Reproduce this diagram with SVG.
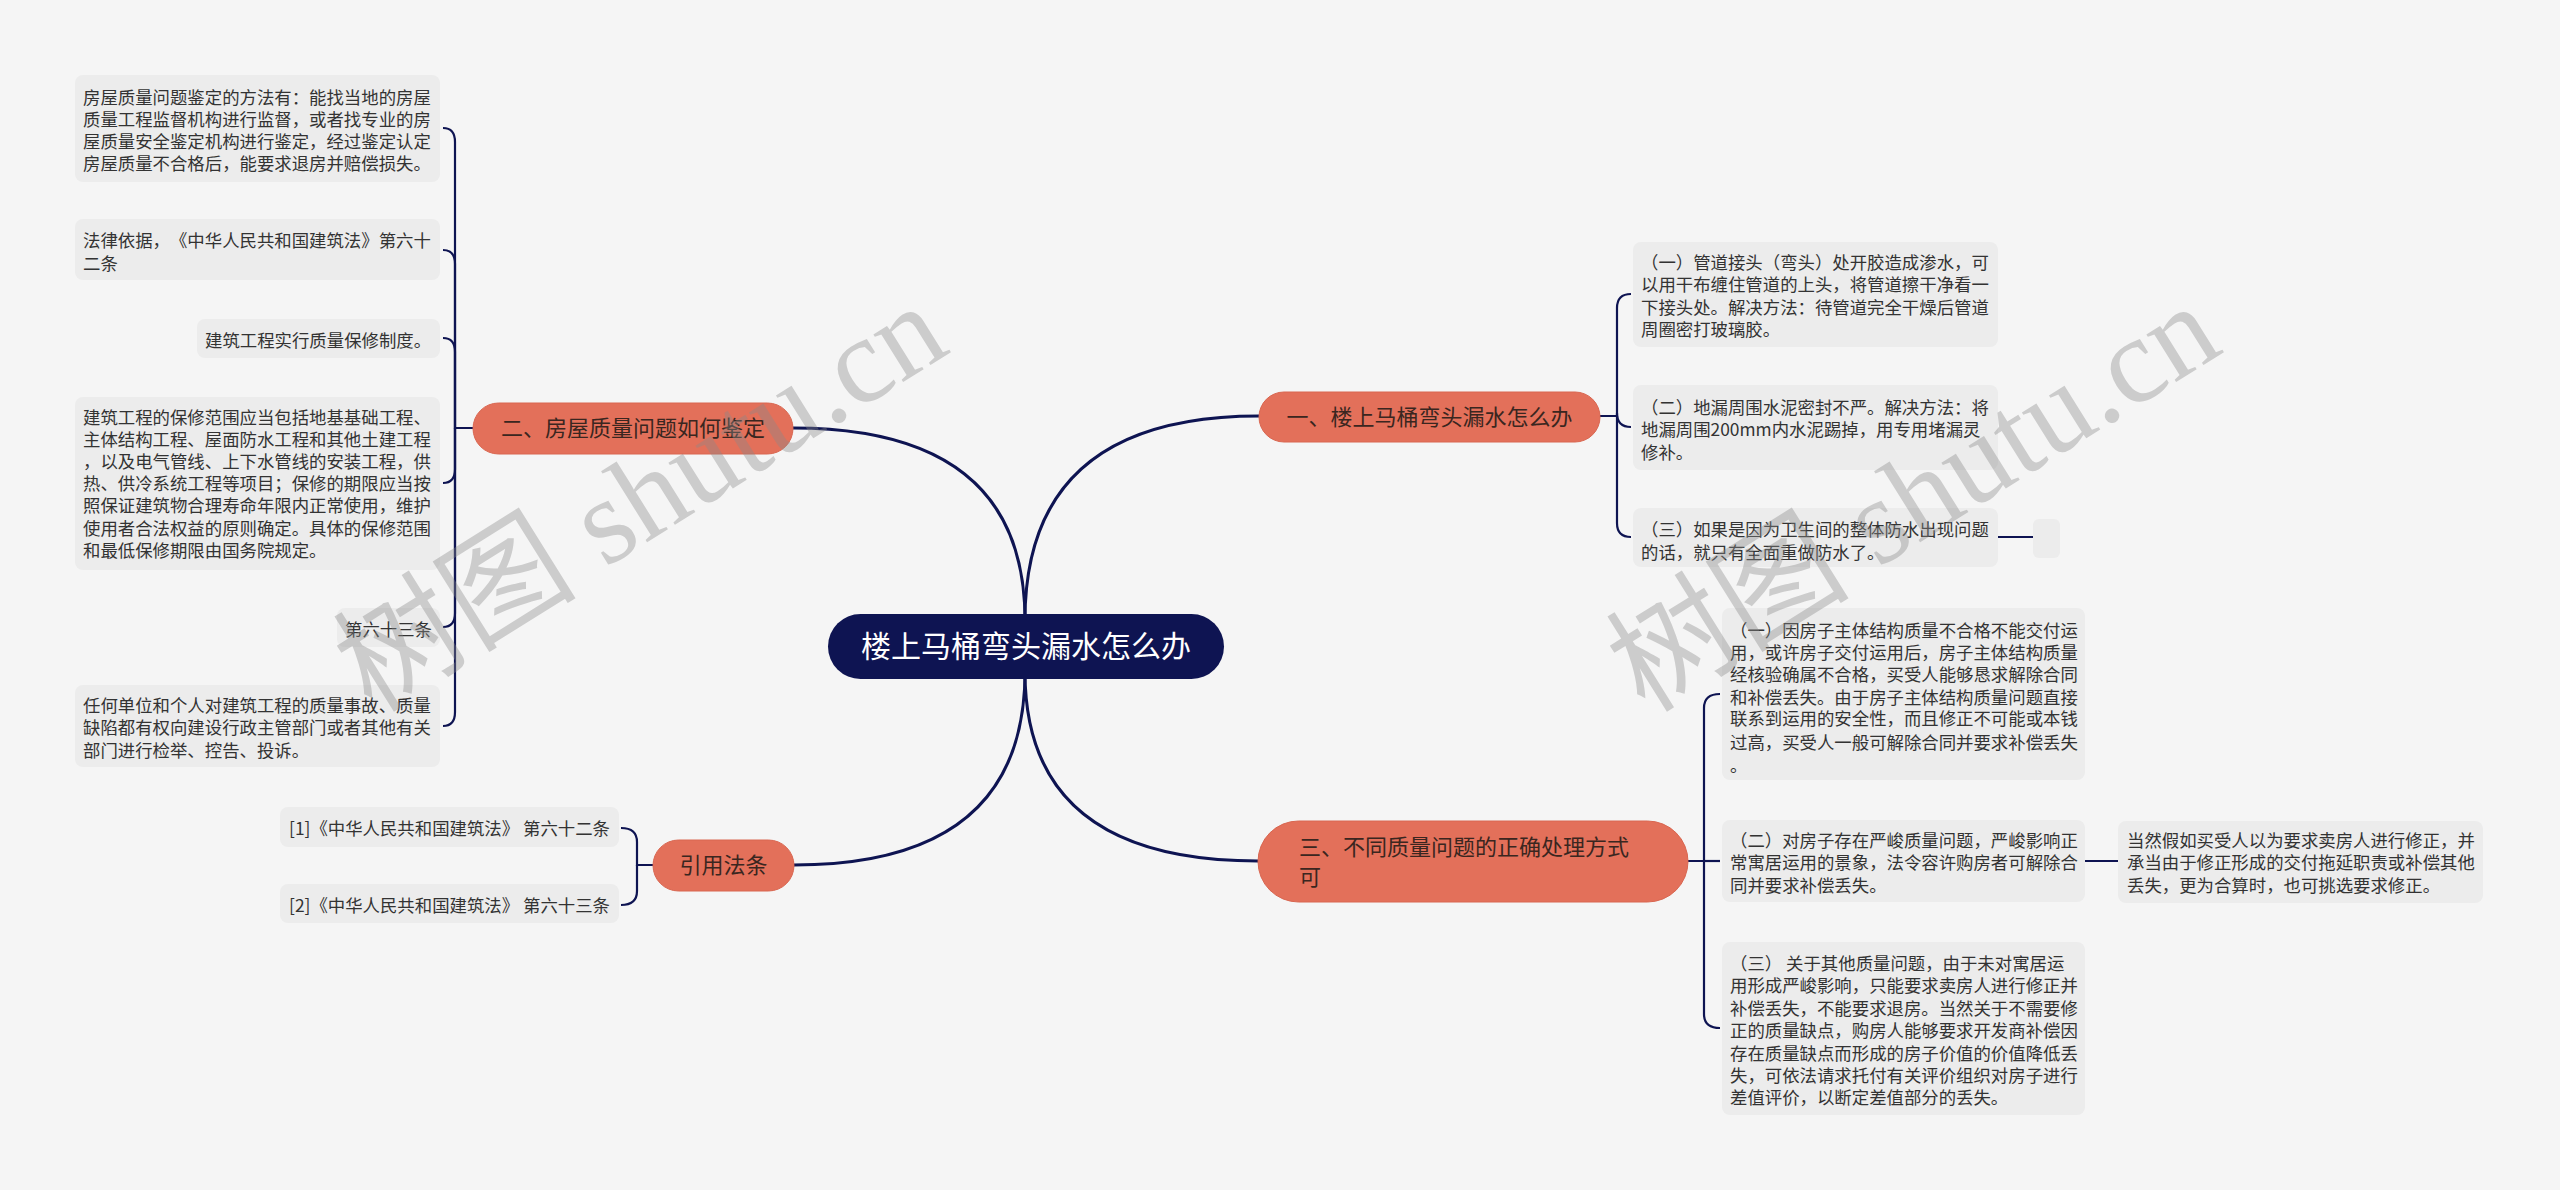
<svg xmlns="http://www.w3.org/2000/svg" width="2560" height="1190" viewBox="0 0 2560 1190">
<style>
.bg{fill:#f5f5f5}
text{text-spacing-trim:space-all}
.leaf rect{fill:#ececec}
.leaf text{font-family:"Noto Sans CJK SC","Noto Sans",sans-serif;font-size:17.4px;fill:#333333}
.branch rect{fill:#e3705a;stroke:#d96650;stroke-width:1}
.branch text{font-family:"Noto Sans CJK SC","Noto Sans",sans-serif;font-size:22px;fill:#3a2620}
.root rect{fill:#0e1452}
.root text{font-family:"Noto Sans CJK SC","Noto Sans",sans-serif;font-size:30px;fill:#ffffff}
.main{fill:none;stroke:#0e1452;stroke-width:3}
.sub{fill:none;stroke:#0e1452;stroke-width:2.2}
.wm{font-family:"Liberation Serif","Noto Sans CJK SC",serif;font-size:122px;fill:#8a8a8a;opacity:0.38}
</style>
<rect class="bg" x="0" y="0" width="2560" height="1190"/>

<g id="connectors">
  <path class="main" d="M1025,620 Q1025,416 1259,416"/>
  <path class="main" d="M1025,620 Q1025,428 793,428"/>
  <path class="main" d="M1025,672 Q1025,865 794,865"/>
  <path class="main" d="M1025,672 Q1025,861 1258,861"/>
  <!-- branch 二 -->
  <path class="sub" d="M473,428 L455,428 L455,142 Q455,128 443,128"/>
  <path class="sub" d="M455,428 L455,264 Q455,250 443,250"/>
  <path class="sub" d="M455,428 L455,352 Q455,338 443,338"/>
  <path class="sub" d="M455,428 L455,469 Q455,483 443,483"/>
  <path class="sub" d="M455,428 L455,613 Q455,627 443,627"/>
  <path class="sub" d="M455,428 L455,712 Q455,726 443,726"/>
  <!-- branch 一 -->
  <path class="sub" d="M1600,416 L1617,416 L1617,308 Q1617,294 1631,294"/>
  <path class="sub" d="M1617,416 L1617,413 Q1617,427 1631,427"/>
  <path class="sub" d="M1617,416 L1617,523 Q1617,537 1631,537"/>
  <path class="sub" d="M1998,537 L2033,537"/>
  <!-- branch 三 -->
  <path class="sub" d="M1688,861 L1704,861 L1704,708 Q1704,694 1720,694"/>
  <path class="sub" d="M1704,861 L1720,861"/>
  <path class="sub" d="M1704,861 L1704,1014 Q1704,1028 1720,1028"/>
  <path class="sub" d="M2085,861 L2118,861"/>
  <!-- 引用法条 -->
  <path class="sub" d="M653,865 L637,865 L637,842 Q637,828 621,828"/>
  <path class="sub" d="M637,865 L637,891 Q637,905 621,905"/>
</g>

<g id="root" class="root">
  <rect x="828" y="614" width="396" height="65" rx="32.5"/>
  <text x="1026" y="657" text-anchor="middle">楼上马桶弯头漏水怎么办</text>
</g>

<g id="b1" class="branch">
  <rect x="1259" y="392" width="341" height="50" rx="25"/>
  <text x="1429.5" y="424.5" text-anchor="middle">一、楼上马桶弯头漏水怎么办</text>
</g>
<g id="b2" class="branch">
  <rect x="473" y="403" width="320" height="51" rx="25.5"/>
  <text x="633" y="436" text-anchor="middle">二、房屋质量问题如何鉴定</text>
</g>
<g id="b3" class="branch">
  <rect x="653" y="840" width="141" height="51" rx="25.5"/>
  <text x="723.5" y="873" text-anchor="middle">引用法条</text>
</g>
<g id="b4" class="branch">
  <rect x="1258" y="821" width="430" height="81" rx="40.5"/>
  <text x="1299" y="855">三、不同质量问题的正确处理方式</text>
  <text x="1299" y="885">可</text>
</g>

<g id="l2a" class="leaf">
  <rect x="75" y="75" width="365" height="107" rx="8"/>
  <text x="83" y="103.5">房屋质量问题鉴定的方法有：能找当地的房屋</text>
  <text x="83" y="125.5">质量工程监督机构进行监督，或者找专业的房</text>
  <text x="83" y="147.5">屋质量安全鉴定机构进行鉴定，经过鉴定认定</text>
  <text x="83" y="169.5">房屋质量不合格后，能要求退房并赔偿损失。</text>
</g>
<g id="l2b" class="leaf">
  <rect x="75" y="219" width="365" height="61" rx="8"/>
  <text x="83" y="246.5">法律依据，《中华人民共和国建筑法》第六十</text>
  <text x="83" y="269.5">二条</text>
</g>
<g id="l2c" class="leaf">
  <rect x="197" y="319" width="243" height="39" rx="8"/>
  <text x="205" y="346.5">建筑工程实行质量保修制度。</text>
</g>
<g id="l2d" class="leaf">
  <rect x="75" y="397" width="365" height="173" rx="8"/>
  <text x="83" y="423.5">建筑工程的保修范围应当包括地基基础工程、</text>
  <text x="83" y="445.5">主体结构工程、屋面防水工程和其他土建工程</text>
  <text x="83" y="467.5">，以及电气管线、上下水管线的安装工程，供</text>
  <text x="83" y="489.5">热、供冷系统工程等项目；保修的期限应当按</text>
  <text x="83" y="512">照保证建筑物合理寿命年限内正常使用，维护</text>
  <text x="83" y="534.5">使用者合法权益的原则确定。具体的保修范围</text>
  <text x="83" y="556.5">和最低保修期限由国务院规定。</text>
</g>
<g id="l2e" class="leaf">
  <rect x="337" y="608" width="103" height="39" rx="8"/>
  <text x="345" y="635.5">第六十三条</text>
</g>
<g id="l2f" class="leaf">
  <rect x="75" y="685" width="365" height="82" rx="8"/>
  <text x="83" y="711.5">任何单位和个人对建筑工程的质量事故、质量</text>
  <text x="83" y="733.5">缺陷都有权向建设行政主管部门或者其他有关</text>
  <text x="83" y="756.5">部门进行检举、控告、投诉。</text>
</g>

<g id="l3a" class="leaf">
  <rect x="280" y="807" width="339" height="40" rx="8"/>
  <text x="289" y="834.5">[1]《中华人民共和国建筑法》 第六十二条</text>
</g>
<g id="l3b" class="leaf">
  <rect x="280" y="884" width="339" height="39" rx="8"/>
  <text x="289" y="911.5">[2]《中华人民共和国建筑法》 第六十三条</text>
</g>

<g id="l1a" class="leaf">
  <rect x="1633" y="242" width="365" height="105" rx="8"/>
  <text x="1641" y="268.5">（一）管道接头（弯头）处开胶造成渗水，可</text>
  <text x="1641" y="291">以用干布缠住管道的上头，将管道擦干净看一</text>
  <text x="1641" y="313.5">下接头处。解决方法：待管道完全干燥后管道</text>
  <text x="1641" y="336">周圈密打玻璃胶。</text>
</g>
<g id="l1b" class="leaf">
  <rect x="1633" y="385" width="365" height="85" rx="8"/>
  <text x="1641" y="413.5">（二）地漏周围水泥密封不严。解决方法：将</text>
  <text x="1641" y="436">地漏周围200mm内水泥踢掉，用专用堵漏灵</text>
  <text x="1641" y="458.5">修补。</text>
</g>
<g id="l1c" class="leaf">
  <rect x="1633" y="508" width="365" height="59" rx="8"/>
  <text x="1641" y="535.5">（三）如果是因为卫生间的整体防水出现问题</text>
  <text x="1641" y="558.5">的话，就只有全面重做防水了。</text>
</g>
<g id="l1d" class="leaf">
  <rect x="2033" y="519" width="27" height="39" rx="6"/>
</g>

<g id="l4a" class="leaf">
  <rect x="1722" y="608" width="363" height="172" rx="8"/>
  <text x="1730" y="636.5">（一）因房子主体结构质量不合格不能交付运</text>
  <text x="1730" y="658.5">用，或许房子交付运用后，房子主体结构质量</text>
  <text x="1730" y="680.5">经核验确属不合格，买受人能够恳求解除合同</text>
  <text x="1730" y="703.5">和补偿丢失。由于房子主体结构质量问题直接</text>
  <text x="1730" y="724.5">联系到运用的安全性，而且修正不可能或本钱</text>
  <text x="1730" y="748.5">过高，买受人一般可解除合同并要求补偿丢失</text>
  <text x="1730" y="771.5">。</text>
</g>
<g id="l4b" class="leaf">
  <rect x="1722" y="820" width="363" height="82" rx="8"/>
  <text x="1730" y="846.5">（二）对房子存在严峻质量问题，严峻影响正</text>
  <text x="1730" y="868.5">常寓居运用的景象，法令容许购房者可解除合</text>
  <text x="1730" y="891.5">同并要求补偿丢失。</text>
</g>
<g id="l4b1" class="leaf">
  <rect x="2118" y="821" width="365" height="82" rx="8"/>
  <text x="2127" y="846.5">当然假如买受人以为要求卖房人进行修正，并</text>
  <text x="2127" y="868.5">承当由于修正形成的交付拖延职责或补偿其他</text>
  <text x="2127" y="891.5">丢失，更为合算时，也可挑选要求修正。</text>
</g>
<g id="l4c" class="leaf">
  <rect x="1722" y="942" width="363" height="173" rx="8"/>
  <text x="1730" y="969.5">（三） 关于其他质量问题，由于未对寓居运</text>
  <text x="1730" y="991.5">用形成严峻影响，只能要求卖房人进行修正并</text>
  <text x="1730" y="1014.5">补偿丢失，不能要求退房。当然关于不需要修</text>
  <text x="1730" y="1036.5">正的质量缺点，购房人能够要求开发商补偿因</text>
  <text x="1730" y="1059.5">存在质量缺点而形成的房子价值的价值降低丢</text>
  <text x="1730" y="1081.5">失，可依法请求托付有关评价组织对房子进行</text>
  <text x="1730" y="1103.5">差值评价，以断定差值部分的丢失。</text>
</g>

<g id="watermark">
  <text class="wm" transform="translate(372,714) rotate(-32)">树图 shutu.cn</text>
  <text class="wm" transform="translate(1645,714) rotate(-32)">树图 shutu.cn</text>
</g>
</svg>
